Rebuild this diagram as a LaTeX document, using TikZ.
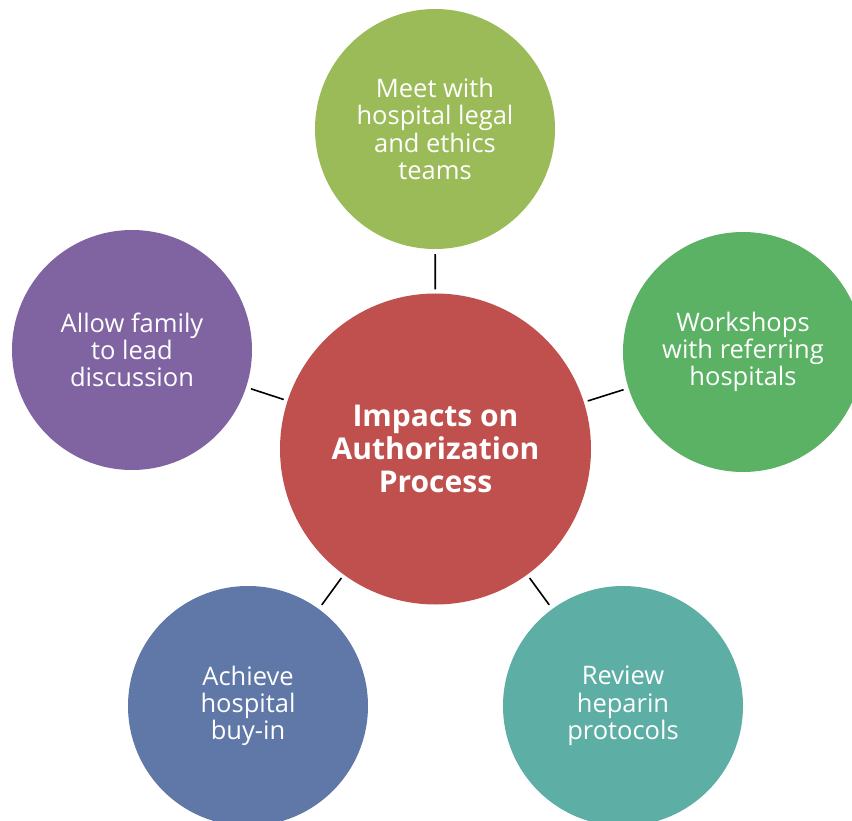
\documentclass[tikz,border=0pt]{standalone}
\usepackage{fontspec}
\setmainfont{Open Sans}
\definecolor{cred}{HTML}{C0504D}
\definecolor{cgreenA}{HTML}{9BBB59}
\definecolor{cgreenB}{HTML}{5BB264}
\definecolor{cteal}{HTML}{5DAFA5}
\definecolor{cblue}{HTML}{5F78A8}
\definecolor{cpurple}{HTML}{8064A2}
\begin{document}
\begin{tikzpicture}[x=1pt,y=-1pt,
  outer/.style={circle,minimum size=240pt,inner sep=0pt,text=white,align=center,
    font=\fontsize{25.5}{27.3}\selectfont},
  hub/.style={circle,minimum size=311pt,inner sep=0pt,fill=cred,text=white,align=center,
    font=\fontsize{30}{33}\selectfont\bfseries},
  link/.style={black,line width=1.6pt,shorten <=4pt,shorten >=5pt}]
\path[use as bounding box] (0,0) rectangle (852,821);
\begin{scope}
\clip (0,0) rectangle (852,821);
\node[hub] (c) at (435.5,449) {Impacts on\\Authorization\\Process};
\node[outer,fill=cgreenA] (t) at (435,129) {Meet with\\hospital legal\\and ethics\\teams};
\node[outer,fill=cgreenB] (r) at (743,352) {Workshops\\with referring\\hospitals};
\node[outer,fill=cteal] (br) at (623,706) {Review\\heparin\\protocols};
\node[outer,fill=cblue] (bl) at (248,706) {Achieve\\hospital\\buy-in};
\node[outer,fill=cpurple] (l) at (132,350) {Allow family\\to lead\\discussion};
\end{scope}
\draw[link] (c) -- (t);
\draw[link] (c) -- (r);
\draw[link] (c) -- (br);
\draw[link] (c) -- (bl);
\draw[link] (c) -- (l);
\end{tikzpicture}
\end{document}
